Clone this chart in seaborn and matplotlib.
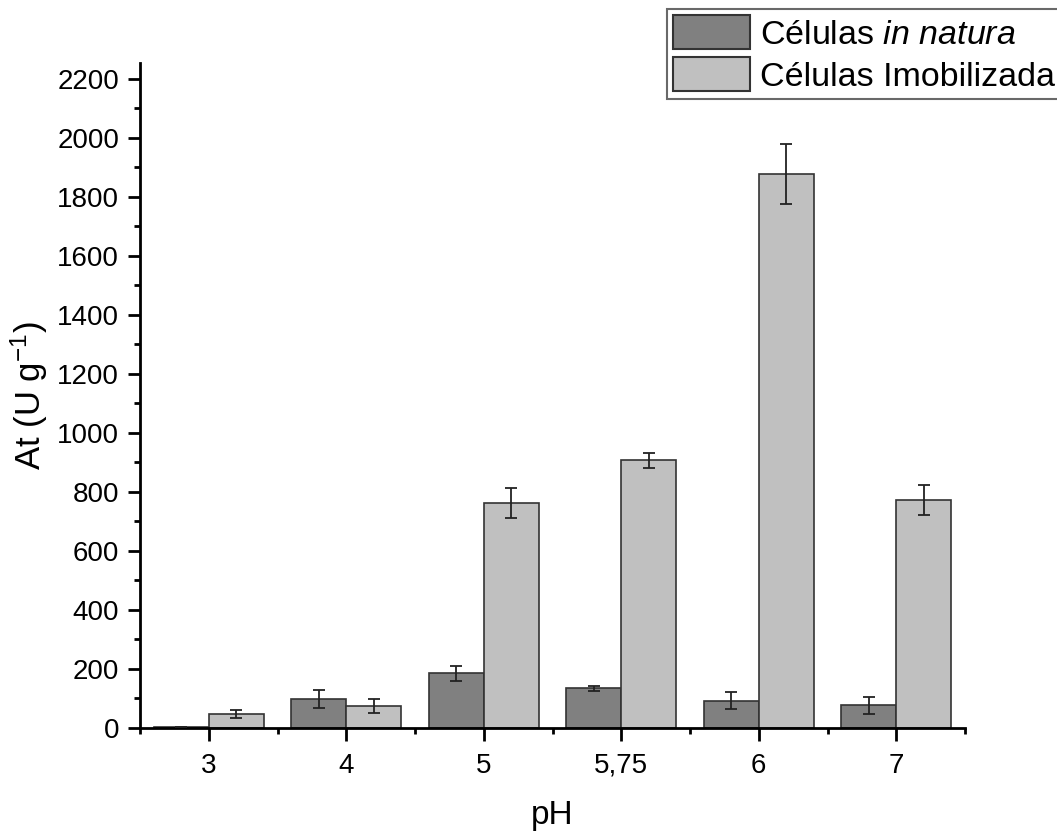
import matplotlib
matplotlib.use("Agg")
import matplotlib.pyplot as plt
import seaborn as sns
import pandas as pd
import numpy as np
from matplotlib.ticker import MultipleLocator, FixedLocator

ph_labels = ["3", "4", "5", "5,75", "6", "7"]
natura = [3, 99, 185, 134, 93, 77]
natura_err = [1, 30, 25, 8, 30, 28]
imob = [47, 74, 763, 907, 1877, 773]
imob_err = [13, 24, 50, 25, 102, 50]
series = ["Células $\\it{in\\ natura}$", "Células Imobilizada"]
colors = ["#808080", "#C0C0C0"]

sns.set_theme(style="ticks")
plt.rcParams['font.family'] = ['Liberation Sans', 'DejaVu Sans']
plt.rcParams['mathtext.fontset'] = 'custom'
plt.rcParams['mathtext.rm'] = 'Liberation Sans'
plt.rcParams['mathtext.it'] = 'Liberation Sans:italic'
plt.rcParams['mathtext.bf'] = 'Liberation Sans:bold'
plt.rcParams['text.color'] = 'black'
plt.rcParams['axes.labelcolor'] = 'black'

df = pd.DataFrame({
    "pH": ph_labels * 2,
    "At": natura + imob,
    "err": natura_err + imob_err,
    "serie": [series[0]] * len(ph_labels) + [series[1]] * len(ph_labels),
})

fig = plt.figure(figsize=(10.57, 8.32), dpi=100)
ax = fig.add_axes([140/1057, 1-728/832, (965-140)/1057, (728-63)/832])

sns.barplot(data=df, x="pH", y="At", hue="serie", order=ph_labels,
            hue_order=series, palette=colors, width=0.8, errorbar=None,
            edgecolor="#333333", linewidth=1.2, ax=ax, legend=True)

# error bars at bar centers
bars = [p for p in ax.patches if p.get_width() > 0][:2*len(ph_labels)]
vals = natura + imob
errs = natura_err + imob_err
for p, v, e in zip(bars, vals, errs):
    xc = p.get_x() + p.get_width() / 2
    ax.errorbar(xc, v, yerr=e, fmt="none", ecolor="#222222", elinewidth=1.3,
                capsize=4.5, capthick=1.3, zorder=5)

ax.set_xlim(-0.5, 5.5)
ax.set_ylim(0, 2254)
ax.yaxis.set_major_locator(MultipleLocator(200))
ax.yaxis.set_minor_locator(MultipleLocator(100))
ax.xaxis.set_minor_locator(FixedLocator(np.arange(-0.5, 6, 1.0)))

for s in ["top", "right"]:
    ax.spines[s].set_visible(False)
for s in ["left", "bottom"]:
    ax.spines[s].set_linewidth(2)
    ax.spines[s].set_color("black")

ax.tick_params(axis="both", which="major", direction="out", length=9, width=2,
               labelsize=20, colors="black", pad=6)
ax.tick_params(axis="x", which="major", pad=9)
ax.tick_params(axis="both", which="minor", direction="out", length=4.5, width=2,
               colors="black")

ax.set_xlabel("pH", fontsize=24, labelpad=15, color="black")
ax.set_ylabel("At (U g$^{-1}$)", fontsize=25, labelpad=5, color="black")

leg = ax.get_legend()
handles = leg.legend_handles
leg.remove()
lg = fig.legend(handles, series, loc="upper left",
                bbox_to_anchor=(667/1057, 1 - 9/832), borderaxespad=0,
                fontsize=24.5, frameon=True, fancybox=False, edgecolor="#444444",
                handlelength=2.25, handleheight=1.15, handletextpad=0.3,
                labelspacing=0.2, borderpad=0.18)
lg.get_frame().set_linewidth(1.5)
for t in lg.get_texts():
    t.set_color("black")
for h in lg.legend_handles:
    h.set_edgecolor("#333333")
    h.set_linewidth(1.5)

fig.savefig("out.png", dpi=100)
